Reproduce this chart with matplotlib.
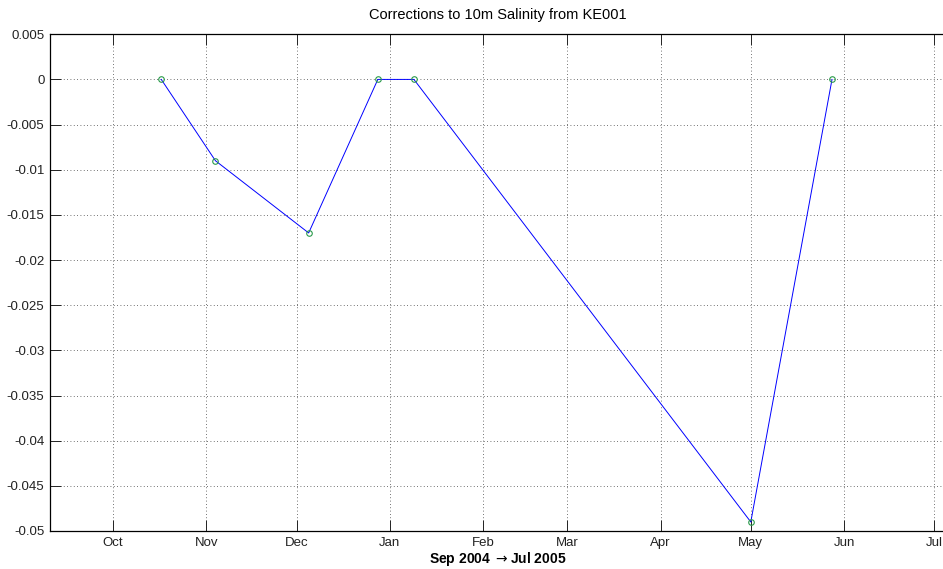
import numpy as np
import matplotlib
matplotlib.use('Agg')
import matplotlib.pyplot as plt
import matplotlib.dates as mdates
from datetime import datetime

plt.rcParams['font.family'] = ['Liberation Sans', 'DejaVu Sans']

# 보정 날짜 및 값
dates = [datetime(2004, 10, 17), datetime(2004, 11, 4), datetime(2004, 12, 5),
         datetime(2004, 12, 28), datetime(2005, 1, 9), datetime(2005, 5, 1),
         datetime(2005, 5, 28)]
corrections = [0.0, -0.009, -0.017, 0.0, 0.0, -0.049, 0.0]

month_ticks = [datetime(2004, m, 1) for m in (10, 11, 12)] + \
              [datetime(2005, m, 1) for m in range(1, 8)]
month_labels = ['Oct', 'Nov', 'Dec', 'Jan', 'Feb', 'Mar', 'Apr', 'May', 'Jun', 'Jul']

y_ticks = [0.005, 0, -0.005, -0.01, -0.015, -0.02, -0.025, -0.03, -0.035,
           -0.04, -0.045, -0.05]
y_labels = ['0.005', '0', '-0.005', '-0.01', '-0.015', '-0.02', '-0.025', '-0.03',
            '-0.035', '-0.04', '-0.045', '-0.05']

fig = plt.figure(figsize=(9.43, 5.69), dpi=100)
# 오른쪽 테두리는 그림 밖으로 약간 벗어나게 배치
ax = fig.add_axes([0.053, 0.0668, 0.9505, 0.873])

ax.plot(dates, corrections, '-', color='#0000ff', lw=0.7, zorder=3)
ax.plot(dates, corrections, 'o', mfc='none', mec='#2a9a4a', ms=4, mew=0.8, zorder=4)

ax.set_xlim(datetime(2004, 9, 10), datetime(2005, 7, 5))
ax.set_ylim(-0.05, 0.005)
ax.set_xticks(month_ticks)
ax.set_xticklabels(month_labels)
ax.set_yticks(y_ticks)
ax.set_yticklabels(y_labels)

ax.grid(True, linestyle=(0, (1, 3)), color='#444444', lw=0.6)
ax.tick_params(direction='in', length=8, width=0.7, labelsize=9.5,
               top=True, right=False, colors='#222222', pad=4)
ax.spines['right'].set_visible(False)
for s in ax.spines.values():
    s.set_linewidth(0.9)

ax.set_title('Corrections to 10m Salinity from KE001', fontsize=10.5, pad=11)
ax.set_xlabel(r'Sep 2004 $\rightarrow$Jul 2005', fontsize=10, fontweight='bold', labelpad=1)

fig.savefig('out.png', dpi=100)
